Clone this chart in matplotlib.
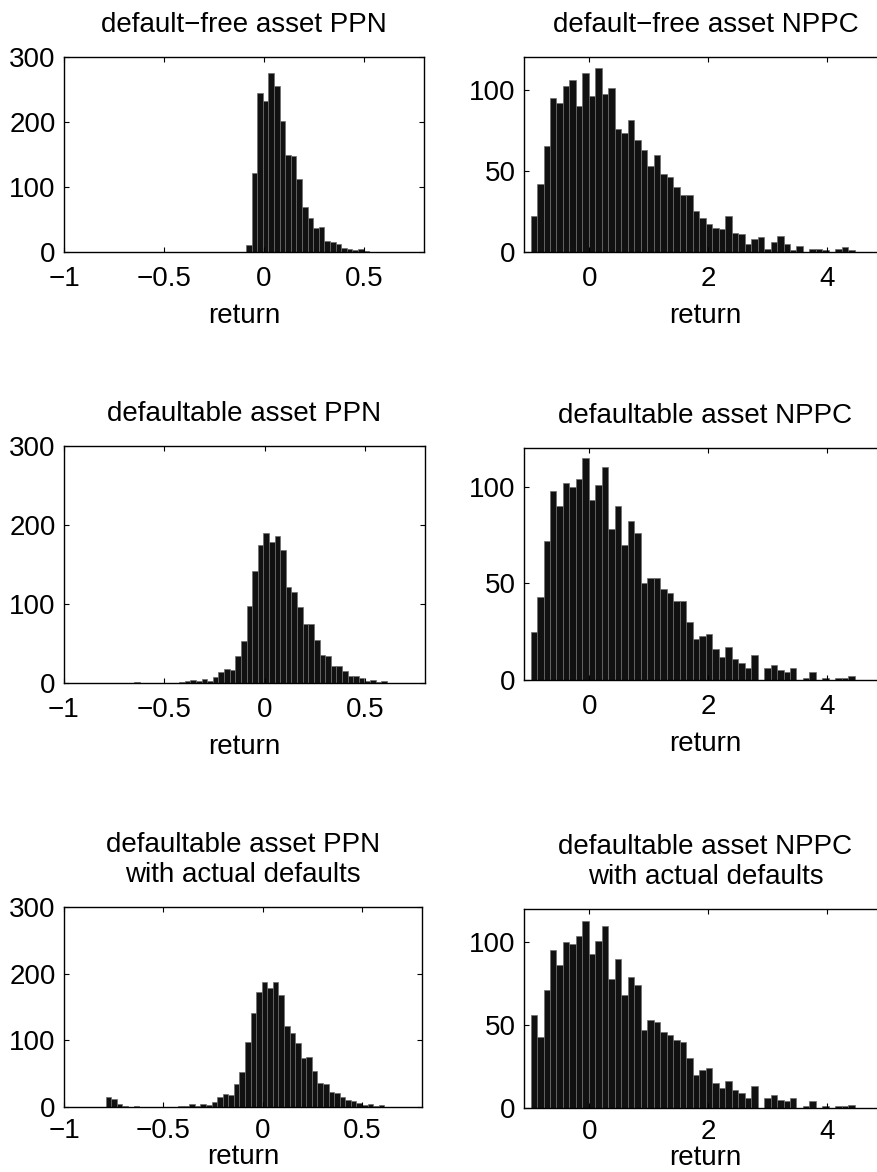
import matplotlib
matplotlib.use('Agg')
import matplotlib.pyplot as plt
import numpy as np

plt.rcParams['font.family'] = ['Liberation Sans', 'DejaVu Sans']
plt.rcParams['font.size'] = 20

# histogram bins (50 bins each)
ppn_edges = np.linspace(-0.79, 0.61, 51)
nppc_edges = np.linspace(-0.99, 4.46, 51)

# counts per bin
ppn_free = [0]*25 + [11, 121, 245, 232, 275, 255, 202, 150, 147, 113, 70, 53, 37, 39,
                     17, 15, 12, 6, 4, 3, 5, 2] + [0]*3
ppn_dflt = [0]*5 + [1] + [0]*7 + [1, 3, 4, 2, 5, 3, 7, 14, 18, 17, 34, 53, 98, 142, 175,
                                 190, 178, 186, 168, 122, 115, 96, 75, 75, 55, 36, 34, 22,
                                 22, 15, 9, 9, 6, 3, 4, 1, 3]
ppn_actual = [15, 12, 4, 2, 0, 1] + [0]*7 + [1, 2, 4, 2, 5, 3, 7, 15, 19, 18, 35, 52, 97,
                                            141, 173, 187, 178, 187, 168, 122, 111, 96, 74,
                                            75, 54, 36, 35, 22, 21, 15, 10, 9, 6, 3, 4, 1, 3]

nppc_free = [22, 42, 65, 95, 92, 102, 106, 90, 110, 96, 113, 97, 101, 76, 73, 81, 69, 63,
             53, 60, 48, 46, 40, 35, 35, 25, 21, 17, 15, 14, 22, 12, 11, 5, 8, 9, 2, 6, 10,
             5, 1, 4, 0, 2, 2, 1, 0, 2, 3, 1]
nppc_dflt = [25, 43, 72, 98, 90, 102, 100, 104, 115, 93, 101, 110, 78, 90, 70, 82, 76, 50,
             53, 53, 47, 45, 41, 41, 30, 21, 23, 24, 16, 12, 17, 11, 9, 6, 13, 0, 6, 8, 5,
             4, 6, 0, 1, 4, 0, 1, 0, 1, 1, 2]
nppc_actual = [56, 43, 71, 95, 86, 100, 99, 104, 113, 93, 101, 110, 78, 90, 68, 79, 74, 47,
               53, 52, 46, 44, 41, 40, 30, 20, 23, 24, 15, 12, 16, 11, 9, 6, 13, 0, 6, 8, 5,
               4, 6, 0, 1, 4, 0, 1, 0, 1, 1, 2]

titles = ['default\u2212free asset PPN', 'default\u2212free asset NPPC',
          'defaultable asset PPN', 'defaultable asset NPPC',
          'defaultable asset PPN\nwith actual defaults',
          'defaultable asset NPPC\nwith actual defaults']

ppn_xticks = [-1, -0.5, 0, 0.5]
ppn_xlabels = ['\u22121', '\u22120.5', '0', '0.5']
nppc_xticks = [0, 2, 4]
ppn_yticks = [0, 100, 200, 300]
nppc_yticks = [0, 50, 100]

W, H = 877, 1172
fig = plt.figure(figsize=(W/100, H/100), dpi=100, facecolor='w')

# axes boxes in pixels: left, top, right, bottom
boxes = [(64, 57, 424, 252), (524, 57, 887, 252),
         (64, 446, 425, 683), (524, 448, 887, 680),
         (64, 907, 422, 1107), (524, 909, 887, 1108)]
counts = [ppn_free, nppc_free, ppn_dflt, nppc_dflt, ppn_actual, nppc_actual]

for i in range(6):
    l, t, r, b = boxes[i]
    ax = fig.add_axes([l/W, 1 - b/H, (r - l)/W, (b - t)/H])
    edges = ppn_edges if i % 2 == 0 else nppc_edges
    ax.bar(edges[:-1], counts[i], width=np.diff(edges), align='edge',
           color='#111111', edgecolor='#6e6e6e', linewidth=0.5)
    if i % 2 == 0:
        ax.set_xlim(-1, 0.8)
        ax.set_ylim(0, 300)
        ax.set_xticks(ppn_xticks)
        ax.set_xticklabels(ppn_xlabels)
        ax.set_yticks(ppn_yticks)
    else:
        ax.set_xlim(-1.1, 5.0)
        ax.set_ylim(0, 120)
        ax.set_xticks(nppc_xticks)
        ax.set_yticks(nppc_yticks)
    ax.tick_params(direction='in', top=True, right=True, length=3.5, width=0.8,
                   labelsize=20)
    ax.tick_params(axis='x', pad=10 if i < 4 else 8)
    ax.tick_params(axis='y', pad=6)
    for s in ax.spines.values():
        s.set_linewidth(1.0)
    ax.set_title(titles[i], fontsize=20, pad=18)
    ax.set_xlabel('return', fontsize=20, labelpad=8 if i < 4 else 0)

fig.savefig('out.png', dpi=100)
